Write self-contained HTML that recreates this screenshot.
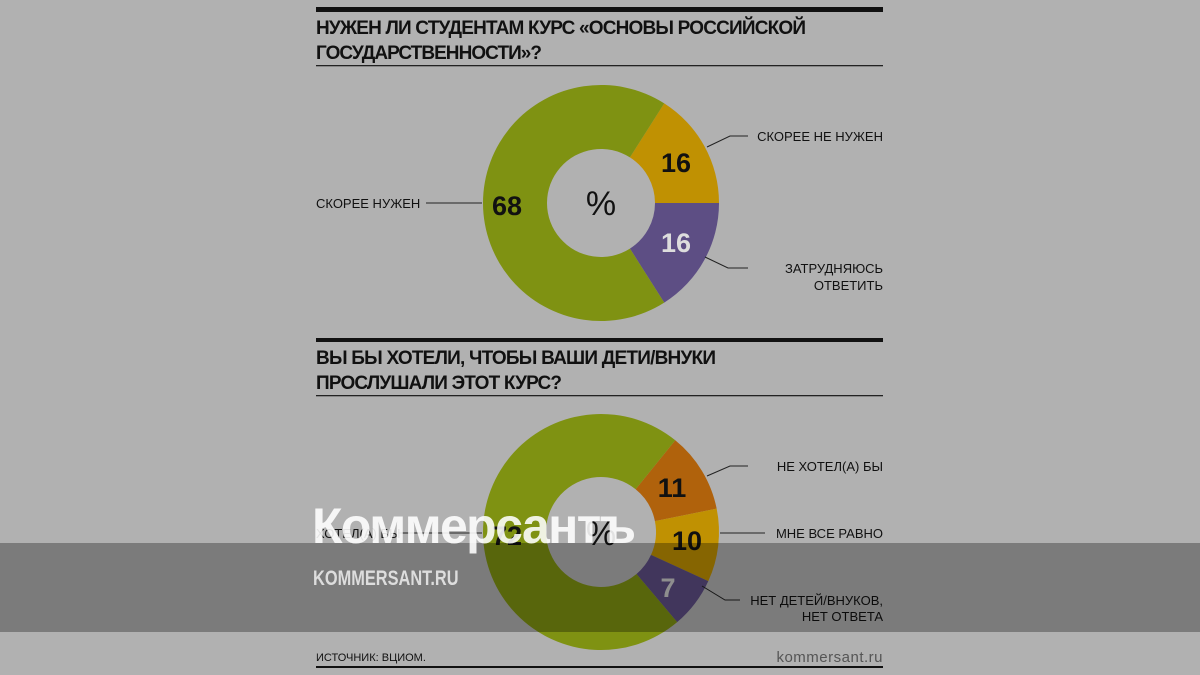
<!DOCTYPE html>
<html><head><meta charset="utf-8"><style>
body{margin:0;width:1200px;height:675px;overflow:hidden;background:#b1b1b1;font-family:"Liberation Sans",sans-serif}
svg{display:block}
</style></head><body>
<svg id="s" width="1200" height="675" xmlns="http://www.w3.org/2000/svg" font-family="Liberation Sans, sans-serif">
<rect width="1200" height="675" fill="#b1b1b1"/>
<rect x="316" y="7" width="567" height="5" fill="#111"/>
<text x="316" y="34" font-size="19" font-weight="bold" fill="#111" textLength="490">НУЖЕН ЛИ СТУДЕНТАМ КУРС «ОСНОВЫ РОССИЙСКОЙ</text>
<text x="316" y="59" font-size="19" font-weight="bold" fill="#111" textLength="226">ГОСУДАРСТВЕННОСТИ»?</text>
<rect x="316" y="65" width="567" height="1.3" fill="#222"/>
<g id="d1"></g>
<text x="601" y="215" font-size="34" text-anchor="middle" fill="#111">%</text>
<text x="507" y="215" font-size="27" font-weight="bold" text-anchor="middle" fill="#111">68</text>
<text x="676" y="172" font-size="27" font-weight="bold" text-anchor="middle" fill="#111">16</text>
<text x="676" y="252" font-size="27" font-weight="bold" text-anchor="middle" fill="#ddd">16</text>
<line x1="426" y1="203" x2="482" y2="203" stroke="#222"/>
<text x="316" y="208" font-size="13" fill="#111">СКОРЕЕ НУЖЕН</text>
<polyline points="707,147 730,136 748,136" fill="none" stroke="#222"/>
<text x="883" y="141" font-size="13" text-anchor="end" fill="#111">СКОРЕЕ НЕ НУЖЕН</text>
<polyline points="705,257 728,268 748,268" fill="none" stroke="#222"/>
<text x="883" y="273" font-size="13" text-anchor="end" fill="#111">ЗАТРУДНЯЮСЬ</text>
<text x="883" y="290" font-size="13" text-anchor="end" fill="#111">ОТВЕТИТЬ</text>

<rect x="316" y="338" width="567" height="4" fill="#111"/>
<text x="316" y="364" font-size="19" font-weight="bold" fill="#111" textLength="400">ВЫ БЫ ХОТЕЛИ, ЧТОБЫ ВАШИ ДЕТИ/ВНУКИ</text>
<text x="316" y="389" font-size="19" font-weight="bold" fill="#111" textLength="246">ПРОСЛУШАЛИ ЭТОТ КУРС?</text>
<rect x="316" y="395" width="567" height="1.3" fill="#222"/>
<g id="d2"></g>
<text x="601" y="545" font-size="34" text-anchor="middle" fill="#111">%</text>
<text x="507" y="545" font-size="27" font-weight="bold" text-anchor="middle" fill="#111">72</text>
<text x="672" y="497" font-size="27" font-weight="bold" text-anchor="middle" fill="#111">11</text>
<text x="687" y="550" font-size="27" font-weight="bold" text-anchor="middle" fill="#111">10</text>
<text x="668" y="597" font-size="27" font-weight="bold" text-anchor="middle" fill="#ccc">7</text>
<line x1="398" y1="533" x2="482" y2="533" stroke="#222"/>
<text x="316" y="538" font-size="13" fill="#111">ХОТЕЛ(А) БЫ</text>
<polyline points="707,476 730,466 748,466" fill="none" stroke="#222"/>
<text x="883" y="471" font-size="13" text-anchor="end" fill="#111">НЕ ХОТЕЛ(А) БЫ</text>
<line x1="720" y1="533" x2="765" y2="533" stroke="#222"/>
<text x="883" y="538" font-size="13" text-anchor="end" fill="#111">МНЕ ВСЕ РАВНО</text>
<polyline points="702,586 725,600 740,600" fill="none" stroke="#222"/>
<text x="883" y="605" font-size="13" text-anchor="end" fill="#111">НЕТ ДЕТЕЙ/ВНУКОВ,</text>
<text x="883" y="621" font-size="13" text-anchor="end" fill="#111">НЕТ ОТВЕТА</text>

<text x="316" y="661" font-size="11" fill="#111">ИСТОЧНИК: ВЦИОМ.</text>
<text x="883" y="662" font-size="15" text-anchor="end" fill="#555" letter-spacing="0.5">kommersant.ru</text>
<rect x="316" y="666" width="567" height="2" fill="#111"/>

<rect x="0" y="543" width="1200" height="89" fill="#000" fill-opacity="0.3"/>
<text x="312" y="543" font-size="50" font-weight="bold" fill="#fff" fill-opacity="0.88" letter-spacing="-1.6">Коммерсантъ</text>
<text transform="translate(313,585) scale(0.78,1)" font-size="21" font-weight="bold" fill="#ddd">KOMMERSANT.RU</text>
</svg>
<script>
function arc(cx,cy,R,r,a0,a1,c){const t=a=>(a-90)*Math.PI/180;
const p=(rad,a)=>[cx+rad*Math.cos(t(a)),cy+rad*Math.sin(t(a))];
const L=(a1-a0)>180?1:0;const[a,b]=p(R,a0),[c2,d]=p(R,a1),[e,f]=p(r,a1),[g,h]=p(r,a0);
return `<path d="M${a},${b}A${R},${R} 0 ${L} 1 ${c2},${d}L${e},${f}A${r},${r} 0 ${L} 0 ${g},${h}Z" fill="${c}"/>`;}
document.getElementById('d1').outerHTML='<g>'+arc(601,203,118,54,32.4,90,'#c09102')+arc(601,203,118,54,90,147.6,'#5d4e84')+arc(601,203,118,54,147.6,392.4,'#7f9212')+'</g>';
document.getElementById('d2').outerHTML='<g>'+arc(601,532,118,55,39,78.6,'#b0620c')+arc(601,532,118,55,78.6,114.6,'#c09102')+arc(601,532,118,55,114.6,139.8,'#5d4e84')+arc(601,532,118,55,139.8,399,'#7f9212')+'</g>';
</script>
</body></html>
